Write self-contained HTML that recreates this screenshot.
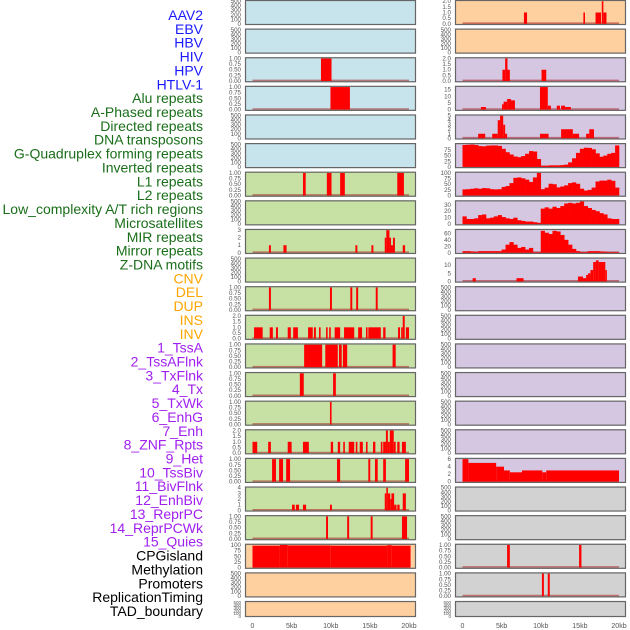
<!DOCTYPE html>
<html><head><meta charset="utf-8"><style>
html,body{margin:0;padding:0;background:#fff;}
svg{display:block;font-family:"Liberation Sans",sans-serif;}
</style></head><body>
<svg id="chart" width="630" height="630" viewBox="0 0 630 630" xmlns="http://www.w3.org/2000/svg"></svg>
<script>
// ---- labels ----
const labelNames = ["AAV2","EBV","HBV","HIV","HPV","HTLV-1","Alu repeats","A-Phased repeats","Directed repeats","DNA transposons","G-Quadruplex forming repeats","Inverted repeats","L1 repeats","L2 repeats","Low_complexity A/T rich regions","Microsatellites","MIR repeats","Mirror repeats","Z-DNA motifs","CNV","DEL","DUP","INS","INV","1_TssA","2_TssAFlnk","3_TxFlnk","4_Tx","5_TxWk","6_EnhG","7_Enh","8_ZNF_Rpts","9_Het","10_TssBiv","11_BivFlnk","12_EnhBiv","13_ReprPC","14_ReprPCWk","15_Quies","CPGisland","Methylation","Promoters","ReplicationTiming","TAD_boundary"];
const labelGroups = [6,13,5,15,5];
const groupColors = ["#1a1aff","#1a6e1a","#ffa500","#a020f0","#000000"];

// ---- x axis ----
const xTicks = [0,5,10,15,20];
const xTickLabels = ["0","5kb","10kb","15kb","20kb"];

// ---- tick sets ----
const T500 = ["0","100","200","300","400","500"];
const T1 = ["0.00","0.25","0.50","0.75","1.00"];
const T2 = ["0.0","0.5","1.0","1.5","2.0"];

// ---- left column data: [startKb,endKb,value] ----
const L3_bars = [[8.75,10.1,1]];
const L4_bars = [[9.96,12.45,1]];
const L7_bars = [[6.45,6.8,1],[9.5,10.1,1],[11.2,11.8,1],[18.5,19.35,1]];
const L9_bars = [[2.1,2.35,1],[3.95,4.35,1],[13.15,13.4,1],[15.2,15.45,1],[16.9,17.1,2],[17.1,17.5,3],[17.5,17.7,2],[17.7,17.95,1],[17.95,18.2,2],[19.2,19.5,1]];
const L11_bars = [[2.1,2.35,1],[9.9,10.15,1],[12.5,12.75,1],[13.25,13.5,1],[15.75,16.0,1]];
const L12_bars = [[0.2,1.3,1],[2.2,2.6,1],[3.0,3.25,1],[4.5,4.9,1],[5.2,5.8,1],[7.1,7.7,1],[7.85,8.1,1],[8.5,8.7,1],[9.4,9.6,1],[9.8,10.0,1],[10.5,11.2,1],[11.7,13.0,1],[13.5,14.0,1],[14.5,14.7,1],[14.8,16.4,1],[16.7,17.0,1],[18.6,18.85,1],[19.0,19.2,1],[19.2,19.45,2],[19.6,20.0,1]];
const L13_bars = [[6.6,8.9,1],[9.3,10.9,1],[11.05,11.4,1],[11.55,12.1,1],[17.9,18.3,1]];
const L14_bars = [[6.05,6.55,1],[10.3,10.65,1]];
const L15_bars = [[9.9,10.1,1]];
const L16_bars = [[0.0,0.6,1],[2.0,2.35,1],[4.5,5.0,1],[6.45,7.2,1],[10.0,10.3,1],[10.9,11.2,1],[11.6,11.8,1],[12.3,13.0,1],[13.2,13.4,1],[13.7,14.1,1],[14.5,14.7,1],[15.4,15.7,1],[16.4,16.6,1],[16.7,17.05,1],[17.05,17.3,2],[17.3,17.55,1],[17.55,18.05,2],[18.05,18.3,1],[18.5,18.8,1],[19.1,19.6,1]];
const L17_bars = [[2.5,3.0,1],[3.4,3.9,1],[4.3,4.8,1],[10.8,11.2,1],[14.8,15.05,1],[15.65,16.0,1],[16.7,17.05,1],[19.5,20.0,1]];
const L18_bars = [[5.05,5.4,1],[5.55,5.95,1],[6.45,6.85,1],[9.9,10.15,1],[16.9,17.1,3],[17.1,17.3,4],[17.3,17.6,3],[17.6,17.75,2],[17.75,18.1,3],[18.1,18.4,1],[18.5,18.8,1],[19.2,19.6,3]];
const L19_bars = [[9.4,9.65,1],[12.1,12.35,1],[15.1,15.35,1],[19.1,19.75,1]];
const L20_bars = [[0,3.5,97],[3.5,4.5,100],[4.5,10,98],[10,17.2,97],[17.2,17.8,99],[17.8,20.2,97]];

// ---- right column data ----
const R1_bars = [[7.85,8.25,1],[15.45,15.6,1],[17.0,17.7,1],[17.8,18.0,2],[18.0,18.4,1]];
const R3_bars = [[5.1,5.45,1],[5.45,5.75,2],[5.75,6.05,1],[10.1,10.7,1]];
const R4_bars = [[2.35,3.0,2],[5.05,5.25,4],[5.25,5.7,6],[5.7,6.2,8],[6.2,6.7,7],[9.9,10.9,17],[10.9,11.3,3],[12.05,12.45,3],[12.6,13.1,3],[13.1,13.85,2]];
const R5_bars = [[2.0,2.9,1],[3.8,4.5,1],[4.5,4.8,4],[4.8,5.2,5],[5.2,5.45,3],[5.45,5.7,1],[9.9,11.0,1],[12.6,14.1,2],[14.1,14.9,1],[15.8,16.2,1],[16.2,16.8,2]];
const R6_bins = [97,98,99,97,92,91,94,95,95,93,80,65,55,46,43,48,58,70,68,35,5,5,7,7,7,8,10,20,38,62,80,85,84,78,60,45,50,58,62,95];
const R7_bins = [27,28,30,32,30,33,32,28,27,28,38,42,55,78,80,76,70,60,80,100,28,35,52,50,36,40,45,55,58,52,30,22,25,35,62,66,66,70,65,35];
const R8_bins = [12,8,8,9,14,15,9,10,12,14,11,9,8,10,6,5,4,4,3,2,24,26,24,27,25,28,32,33,32,33,35,28,25,22,20,17,15,9,8,8];
const R9_bins = [5,5,4,3,5,5,5,5,5,5,10,25,33,25,15,18,10,15,2,2,68,62,58,68,66,55,40,25,12,5,2,2,5,5,5,4,3,2,2,2];
const R10_bars = [[1.3,1.7,2],[6.9,7.8,2],[14.75,15.4,3],[15.4,15.8,2],[15.8,16.05,4],[16.05,16.35,5],[16.35,16.7,7],[16.7,17.05,12],[17.05,17.4,13],[17.4,18.25,12],[18.25,18.4,7]];
const R17_bars = [[0,0.75,6],[0.75,4.3,5],[4.3,5.3,4],[5.3,6.05,3],[6.05,7.6,2.5],[7.6,10.2,3],[10.2,10.7,2.5],[10.7,20,3]];
const R20_bars = [[5.7,6.05,1],[14.9,15.2,1]];
const R21_bars = [[10.15,10.4,1],[10.9,11.15,1]];

const BG = {b:"#c7e3eb",g:"#c7e1a5",o:"#fed09f",p:"#d5c6e1",y:"#d2d2d2"};
const leftPanels = [
 {bg:"b",t:T500},{bg:"b",t:T500},{bg:"b",t:T1,bars:L3_bars},{bg:"b",t:T1,bars:L4_bars},{bg:"b",t:T500},{bg:"b",t:T500},
 {bg:"g",t:T1,bars:L7_bars},{bg:"g",t:T500},{bg:"g",t:["0","1","2","3"],bars:L9_bars},{bg:"g",t:T500},
 {bg:"g",t:T1,bars:L11_bars},{bg:"g",t:T2,bars:L12_bars},{bg:"g",t:T1,bars:L13_bars},{bg:"g",t:T1,bars:L14_bars},
 {bg:"g",t:T1,bars:L15_bars},{bg:"g",t:T2,bars:L16_bars},{bg:"g",t:T1,bars:L17_bars},{bg:"g",t:["0","1","2","3","4"],bars:L18_bars},
 {bg:"g",t:T1,bars:L19_bars},{bg:"o",t:["0","25","50","75","100"],bars:L20_bars},{bg:"o",t:T500},{bg:"o",t:T500}
];
const rightPanels = [
 {bg:"o",t:T2,bars:R1_bars},{bg:"o",t:T500},{bg:"p",t:T2,bars:R3_bars},{bg:"p",t:["0","5","10","15"],max:17,bars:R4_bars},
 {bg:"p",t:["0","1","2","3","4","5"],bars:R5_bars},{bg:"p",t:["0","25","50","75"],max:100,bins:R6_bins},
 {bg:"p",t:["0","25","50","75","100"],bins:R7_bins},{bg:"p",t:["0","10","20","30"],max:35,bins:R8_bins},
 {bg:"p",t:["0","20","40","60"],max:70,bins:R9_bins},{bg:"p",t:["0","5","10"],max:14,bars:R10_bars},
 {bg:"p",t:T500},{bg:"p",t:T500},{bg:"p",t:T500},{bg:"p",t:T500},{bg:"p",t:T500},{bg:"p",t:T500},
 {bg:"p",t:["0","2","4","6"],bars:R17_bars},{bg:"y",t:T500},{bg:"y",t:T500},{bg:"y",t:T1,bars:R20_bars},{bg:"y",t:T1,bars:R21_bars},{bg:"y",t:T500}
];

const svg = document.getElementById('chart');
const NS = "http://www.w3.org/2000/svg";
function mk(tag, attrs, parent){const e=document.createElementNS(NS,tag);for(const k in attrs)e.setAttribute(k,attrs[k]);(parent||svg).appendChild(e);return e;}

// labels
let li=0;
labelGroups.forEach((n,gi)=>{for(let j=0;j<n;j++){
  const t=mk('text',{x:203,y:15+li*13.86+5,'text-anchor':'end','font-size':14,fill:groupColors[gi]});
  t.textContent=labelNames[li];
  
  
  li++;}});

function drawColumn(panels, px, side){
  const pw=171, x0=px+7.5, x1=px+164;
  const xs = kb => x0 + (x1-x0)*kb/20;
  panels.forEach((p,i)=>{
    const top=i*28.62, h=(i===21)?16:25;
    const g=mk('g',{});
    
    
    mk('rect',{x:px,y:top,width:pw,height:h,fill:BG[p.bg]},g);
    const tv=p.t.map(Number);
    const dmax=p.max||tv[tv.length-1];
    const yb=top+h-1.2, yt=top+1.2;
    const ys = v => yb-(yb-yt)*v/dmax;
    p.t.forEach((lab,k)=>{
      const tt=mk('text',{x:px-4,y:ys(tv[k])+2,'text-anchor':'end','font-size':(h<20?4.5:6.2),fill:'#555'},g);
      tt.textContent=lab;
      
      
    });
    const has = p.bars||p.bins;
    if(has){
      mk('line',{x1:xs(0),x2:xs(20),y1:yb-0.6,y2:yb-0.6,stroke:'rgba(170,30,30,0.55)','stroke-width':1.6},g);
    }
    if(p.bars){p.bars.forEach(b=>{
      const r=mk('rect',{x:xs(b[0]),y:ys(b[2]),width:Math.max(1.6,xs(b[1])-xs(b[0])),height:yb-ys(b[2]),fill:'#ff0000'},g);
      
      
    });}
    if(p.bins){p.bins.forEach((v,k)=>{
      const r=mk('rect',{x:xs(k*0.5),y:ys(v),width:xs(0.5)-xs(0)+0.3,height:yb-ys(v),fill:'#ff0000'},g);
      
      
    });}
    mk('rect',{x:px+0.5,y:top+0.5,width:pw-1,height:h-1,fill:'none',stroke:'#666','stroke-width':1.2},g);
  });
  xTicks.forEach((v,k)=>{
    const t=mk('text',{x:xs(v),y:628,'text-anchor':'middle','font-size':7,fill:'#555'});
    t.textContent=xTickLabels[k];
    
    
  });
}
drawColumn(leftPanels,245,'left');
drawColumn(rightPanels,455,'right');
</script>
</body></html>
